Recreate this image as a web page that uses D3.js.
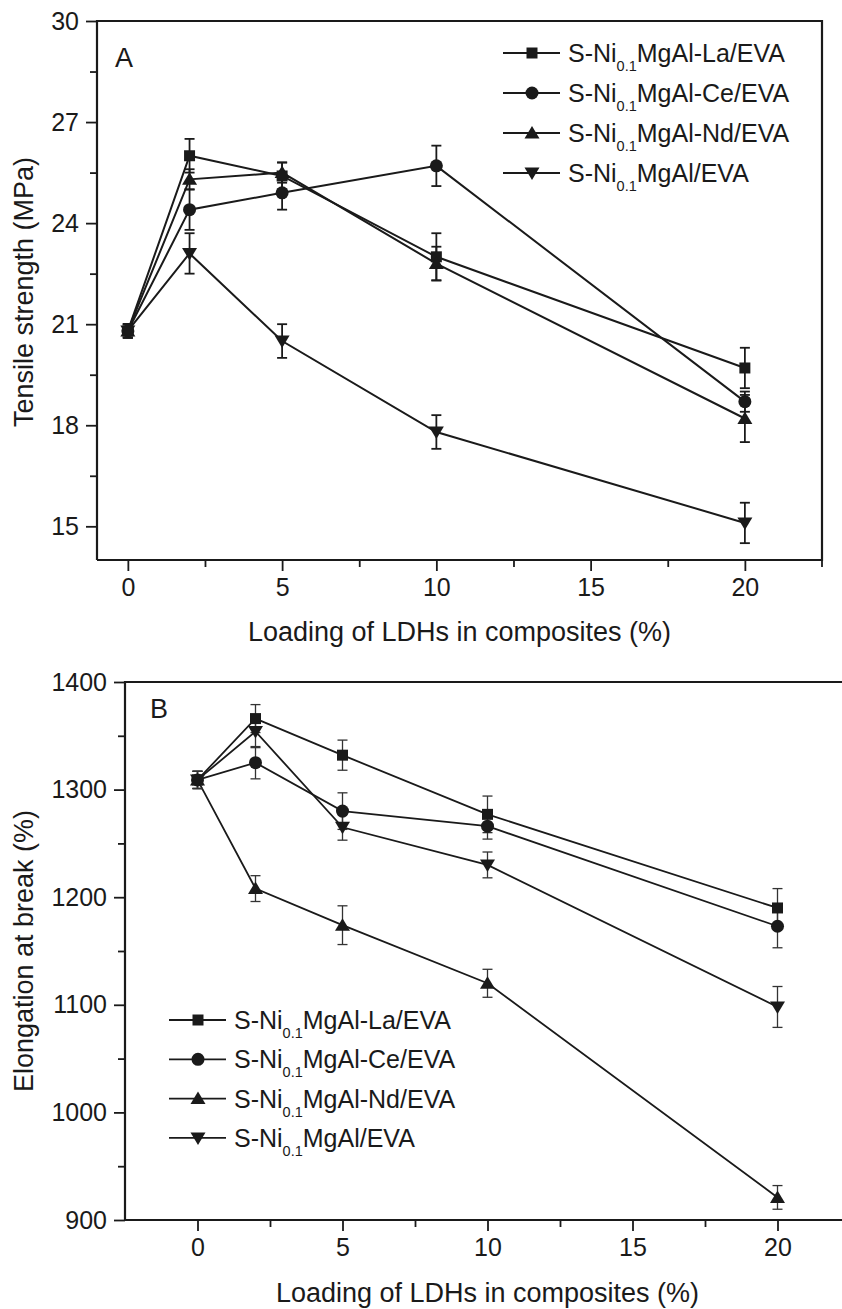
<!DOCTYPE html>
<html>
<head>
<meta charset="utf-8">
<script src="https://cdn.jsdelivr.net/npm/d3@7"></script>
<style>
  body { margin: 0; background: #fff; }
  svg { display: block; font-family: Arial, "Liberation Sans", sans-serif; }
</style>
</head>
<body>
<svg id="chart" width="842" height="1309"></svg>
<script>
/* ========================================================================== */
/* =========================== Data ========================================= */

// LDH loading (%)
var loadings = [0, 2, 5, 10, 20];

// legend names: prefix, subscript, suffix
var seriesPrefix = "S-Ni";
var seriesSub = "0.1";
var seriesSuffix = ["MgAl-La/EVA", "MgAl-Ce/EVA", "MgAl-Nd/EVA", "MgAl/EVA"];
var seriesSymbols = ["square", "circle", "triangle", "triangleDown"];

// panel A: tensile strength (MPa)
var tensileLa = [20.8, 26.0, 25.4, 23.0, 19.7];
var tensileCe = [20.8, 24.4, 24.9, 25.7, 18.7];
var tensileNd = [20.8, 25.3, 25.5, 22.8, 18.2];
var tensilePlain = [20.8, 23.1, 20.5, 17.8, 15.1];
var tensileLaErr = [0.2, 0.5, 0.4, 0.7, 0.6];
var tensileCeErr = [0.2, 0.6, 0.5, 0.6, 0.3];
var tensileNdErr = [0.2, 0.3, 0.3, 0.5, 0.7];
var tensilePlainErr = [0.2, 0.6, 0.5, 0.5, 0.6];
var tensileTicks = [15, 18, 21, 24, 27, 30];

// panel B: elongation at break (%)
var elongLa = [1309, 1366, 1332, 1277, 1190];
var elongCe = [1309, 1325, 1280, 1266, 1173];
var elongNd = [1309, 1208, 1174, 1120, 921];
var elongPlain = [1309, 1354, 1265, 1230, 1098];
var elongLaErr = [8, 13, 14, 17, 18];
var elongCeErr = [8, 15, 17, 12, 20];
var elongNdErr = [8, 12, 18, 13, 11];
var elongPlainErr = [8, 15, 12, 12, 19];
var elongTicks = [900, 1000, 1100, 1200, 1300, 1400];

var xTicks = [0, 5, 10, 15, 20];
var xMinorTicks = [2.5, 7.5, 12.5, 17.5];
var xTitle = "Loading of LDHs in composites (%)";

/* ========================================================================== */

var svg = d3.select("#chart");
var ink = "#1a1a1a";

/*
  returns a path for one of the marker shapes
*/
function markerPath(kind) {
    if (kind == "square") return d3.symbol().type(d3.symbolSquare).size(121)();
    if (kind == "circle") return d3.symbol().type(d3.symbolCircle).size(133)();
    // triangles drawn by hand so the down one is a true flip
    if (kind == "triangle") return "M0,-7L7.5,5.5L-7.5,5.5Z";
    return "M0,7L7.5,-5.5L-7.5,-5.5Z";
}

/*
  writes the S-Ni0.1MgAl-xx/EVA label with a subscript
*/
function addLabel(g, x, y, suffix, size) {
    var t = g.append("text")
        .attr("x", x)
        .attr("y", y + size * 0.36)
        .attr("font-size", size)
        .attr("fill", ink);
    t.append("tspan").text(seriesPrefix);
    t.append("tspan")
        .attr("font-size", size * 0.58)
        .attr("dy", size * 0.36)
        .text(seriesSub);
    t.append("tspan")
        .attr("dy", -size * 0.36)
        .text(suffix);
}

/*
  draws one panel: box, axes, series with error bars, legend
*/
function drawPanel(p) {
    var x = d3.scaleLinear().domain(p.xDomain).range([p.left, p.right]);
    var y = d3.scaleLinear().domain(p.yDomain).range([p.bottom, p.top]);
    var g = svg.append("g");

    // frame
    g.append("path")
        .attr("d", p.frame)
        .attr("fill", "none")
        .attr("stroke", ink)
        .attr("stroke-width", 2.2);

    // y axis, major ticks and minor ticks at the half step
    g.append("g").attr("transform", "translate(" + p.left + ",0)")
        .call(d3.axisLeft(y).tickValues(p.yTicks).tickSize(11).tickPadding(7).tickFormat(d3.format("d")));
    var yMinor = p.yTicks.map(function (v) { return v + p.yStep / 2; })
        .filter(function (v) { return v < p.yDomain[1]; });
    g.append("g").attr("transform", "translate(" + p.left + ",0)")
        .call(d3.axisLeft(y).tickValues(yMinor).tickSize(7).tickFormat(""));

    g.append("g").attr("transform", "translate(0," + p.bottom + ")")
        .call(d3.axisBottom(x).tickValues(xTicks).tickSize(11).tickPadding(7));
    g.append("g").attr("transform", "translate(0," + p.bottom + ")")
        .call(d3.axisBottom(x).tickValues(xMinorTicks).tickSize(7).tickFormat(""));
    if (p.endTick) {
        g.append("line")
            .attr("x1", p.right).attr("x2", p.right)
            .attr("y1", p.bottom).attr("y2", p.bottom + 7)
            .attr("stroke", ink).attr("stroke-width", 1.8);
    }

    g.selectAll(".domain").remove();
    g.selectAll(".tick line").attr("stroke", ink).attr("stroke-width", 1.8);
    g.selectAll(".tick text")
        .attr("font-size", 25)
        .attr("fill", ink)
        .attr("font-family", "Arial, 'Liberation Sans', sans-serif");

    // axis titles
    g.append("text")
        .attr("x", (p.left + p.right) / 2)
        .attr("y", p.xTitleY)
        .attr("text-anchor", "middle")
        .attr("font-size", 27)
        .attr("fill", ink)
        .text(xTitle);
    g.append("text")
        .attr("transform", "translate(" + p.yTitleX + "," + p.yTitleMid + ") rotate(-90)")
        .attr("text-anchor", "middle")
        .attr("font-size", 27)
        .attr("fill", ink)
        .text(p.yTitle);

    // panel letter
    g.append("text")
        .attr("x", p.letterX)
        .attr("y", p.letterY)
        .attr("font-size", 27)
        .attr("fill", ink)
        .text(p.letter);

    var line = d3.line()
        .x(function (d) { return x(d.x); })
        .y(function (d) { return y(d.y); });

    var allPts = p.series.map(function (vals, si) {
        return loadings.map(function (l, i) { return { x: l, y: vals[i], e: p.errors[si][i] }; });
    });

    // lines first, then error bars, then markers on top
    allPts.forEach(function (pts) {
        g.append("path")
            .datum(pts)
            .attr("d", line)
            .attr("fill", "none")
            .attr("stroke", ink)
            .attr("stroke-width", p.lineWidth);
    });

    allPts.forEach(function (pts) {
        var eb = g.append("g")
            .attr("stroke", p.errColor)
            .attr("stroke-width", p.errWidth)
            .attr("fill", "none");
        pts.forEach(function (d) {
            var cx = x(d.x);
            eb.append("line").attr("x1", cx).attr("x2", cx)
                .attr("y1", y(d.y - d.e)).attr("y2", y(d.y + d.e));
            eb.append("line").attr("x1", cx - 5).attr("x2", cx + 5)
                .attr("y1", y(d.y - d.e)).attr("y2", y(d.y - d.e));
            eb.append("line").attr("x1", cx - 5).attr("x2", cx + 5)
                .attr("y1", y(d.y + d.e)).attr("y2", y(d.y + d.e));
        });
    });

    allPts.forEach(function (pts, si) {
        g.selectAll(null)
            .data(pts)
            .enter()
            .append("path")
            .attr("d", markerPath(seriesSymbols[si]))
            .attr("transform", function (d) {
                return "translate(" + x(d.x) + "," + y(d.y) + ")";
            })
            .attr("fill", ink);
    });

    // legend
    var lg = g.append("g");
    seriesSuffix.forEach(function (s, i) {
        var ly = p.legendY + i * p.legendGap;
        lg.append("line")
            .attr("x1", p.legendX).attr("x2", p.legendX + 57)
            .attr("y1", ly).attr("y2", ly)
            .attr("stroke", ink).attr("stroke-width", p.lineWidth);
        lg.append("path")
            .attr("d", markerPath(seriesSymbols[i]))
            .attr("transform", "translate(" + (p.legendX + 29) + "," + ly + ")")
            .attr("fill", ink);
        addLabel(lg, p.legendX + 65, ly, s, 25);
    });
}

// panel A, closed box
drawPanel({
    letter: "A", letterX: 115, letterY: 67,
    left: 97, right: 822, top: 21, bottom: 560,
    xDomain: [-1, 22.5],
    yDomain: [14, 30],
    yTicks: tensileTicks, yStep: 3,
    yTitle: "Tensile strength (MPa)",
    yTitleX: 33, yTitleMid: 292, xTitleY: 641,
    endTick: true,
    frame: "M97,560V21H822V560H97",
    series: [tensileLa, tensileCe, tensileNd, tensilePlain],
    errors: [tensileLaErr, tensileCeErr, tensileNdErr, tensilePlainErr],
    lineWidth: 2, errColor: ink, errWidth: 1.8,
    legendX: 503, legendY: 53, legendGap: 40
});

// panel B, right side runs off the figure
drawPanel({
    letter: "B", letterX: 150, letterY: 718,
    left: 125, right: 850, top: 682, bottom: 1220,
    xDomain: [-2.5, 22.5],
    yDomain: [900, 1400],
    yTicks: elongTicks, yStep: 100,
    yTitle: "Elongation at break (%)",
    yTitleX: 33, yTitleMid: 951, xTitleY: 1302,
    endTick: false,
    frame: "M850,682H125V1220H850",
    series: [elongLa, elongCe, elongNd, elongPlain],
    errors: [elongLaErr, elongCeErr, elongNdErr, elongPlainErr],
    lineWidth: 1.8, errColor: "#333", errWidth: 1.3,
    legendX: 169, legendY: 1020, legendGap: 39.3
});
</script>
</body>
</html>
